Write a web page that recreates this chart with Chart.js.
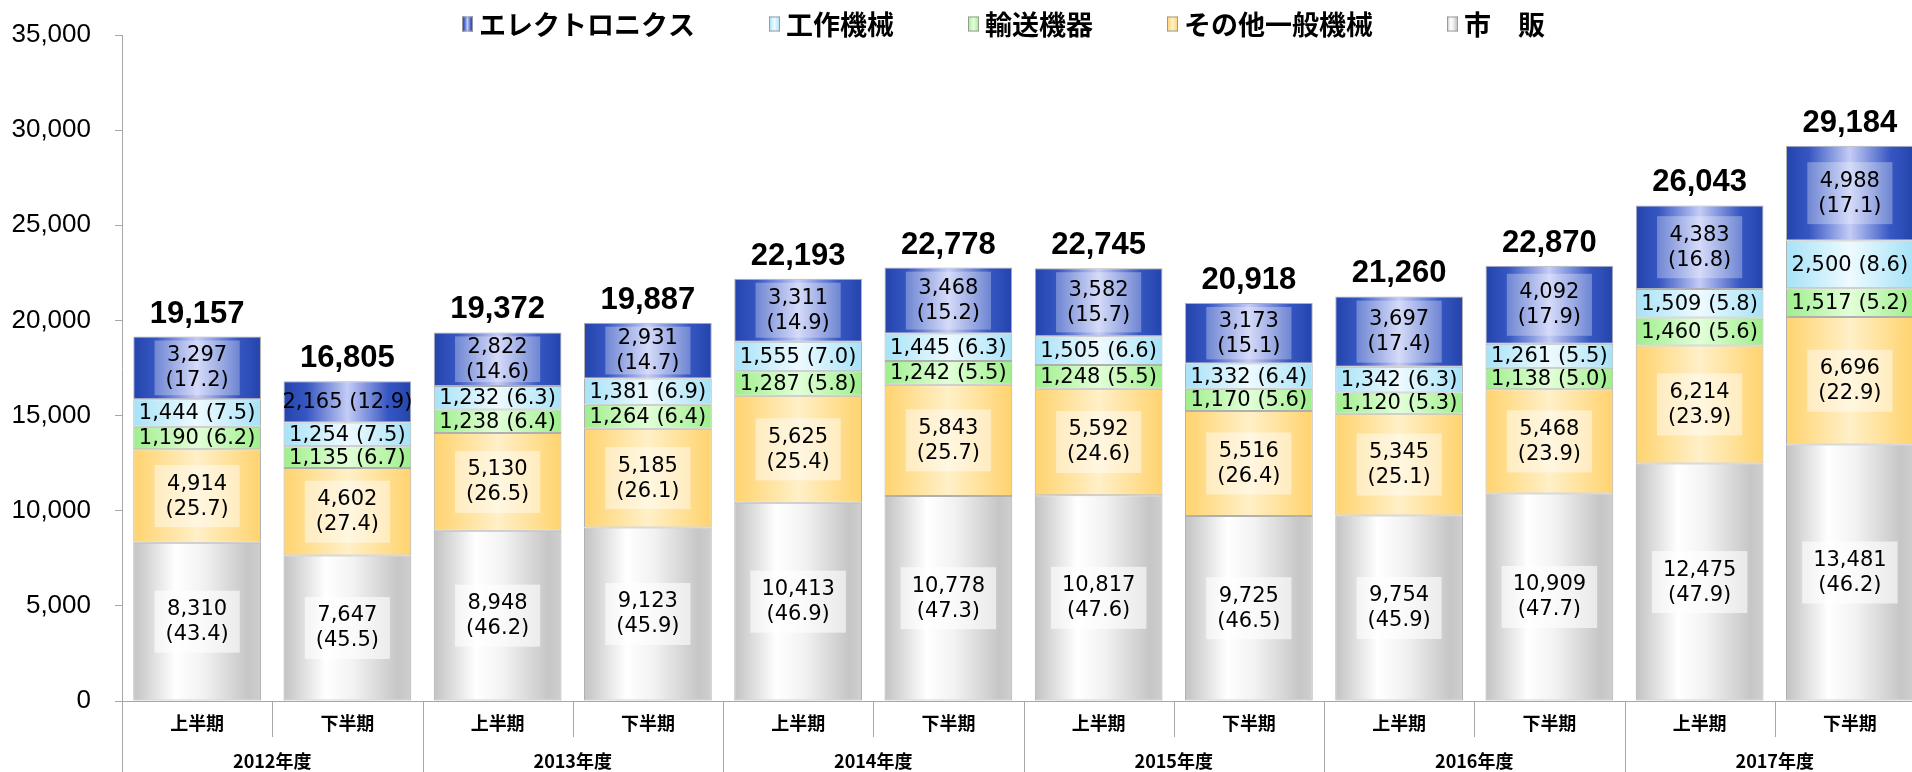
<!DOCTYPE html>
<html lang="ja">
<head>
  <meta charset="UTF-8">
  <title>分野別受注額の推移</title>
  <script src="https://cdn.jsdelivr.net/npm/chart.js"></script>
  <style>
    html, body { margin: 0; padding: 0; background: #fff; overflow: hidden; }
    #wrap { position: relative; width: 1926px; height: 772px; }
  </style>
</head>
<body>
  <div id="wrap"><canvas id="chart"></canvas></div>

  <script>
    // periods and fiscal years
    const halves = ['上半期', '下半期', '上半期', '下半期', '上半期', '下半期',
                    '上半期', '下半期', '上半期', '下半期', '上半期', '下半期'];
    const years = ['2012年度', '2013年度', '2014年度', '2015年度', '2016年度', '2017年度'];

    // values (and share in %) per segment, bottom to top
    const shihan = [8310, 7647, 8948, 9123, 10413, 10778, 10817, 9725, 9754, 10909, 12475, 13481];
    const shihanPct = [43.4, 45.5, 46.2, 45.9, 46.9, 47.3, 47.6, 46.5, 45.9, 47.7, 47.9, 46.2];
    const other = [4914, 4602, 5130, 5185, 5625, 5843, 5592, 5516, 5345, 5468, 6214, 6696];
    const otherPct = [25.7, 27.4, 26.5, 26.1, 25.4, 25.7, 24.6, 26.4, 25.1, 23.9, 23.9, 22.9];
    const transport = [1190, 1135, 1238, 1264, 1287, 1242, 1248, 1170, 1120, 1138, 1460, 1517];
    const transportPct = [6.2, 6.7, 6.4, 6.4, 5.8, 5.5, 5.5, 5.6, 5.3, 5.0, 5.6, 5.2];
    const machineTools = [1444, 1254, 1232, 1381, 1555, 1445, 1505, 1332, 1342, 1261, 1509, 2500];
    const machineToolsPct = [7.5, 7.5, 6.3, 6.9, 7.0, 6.3, 6.6, 6.4, 6.3, 5.5, 5.8, 8.6];
    const electronics = [3297, 2165, 2822, 2931, 3311, 3468, 3582, 3173, 3697, 4092, 4383, 4988];
    const electronicsPct = [17.2, 12.9, 14.6, 14.7, 14.9, 15.2, 15.7, 15.1, 17.4, 17.9, 16.8, 17.1];
    const totals = [19157, 16805, 19372, 19887, 22193, 22778, 22745, 20918, 21260, 22870, 26043, 29184];

    // horizontal gradients for each series
    const fills = {
      shihan: [[0, '#c2c2c2'], [0.33, '#ffffff'], [0.55, '#f2f2f2'], [0.9, '#c6c6c6'], [1, '#cfcfcf']],
      other: [[0, '#ffd36e'], [0.5, '#fff0c8'], [1, '#ffd36e']],
      transport: [[0, '#9eee8c'], [0.5, '#e2ffd8'], [1, '#9eee8c']],
      machineTools: [[0, '#a6e2f7'], [0.5, '#eefaff'], [1, '#a6e2f7']],
      electronics: [[0, '#2444ac'], [0.18, '#3656c2'], [0.5, '#c4ccf6'], [0.82, '#3656c2'], [1, '#2444ac']]
    };

    const fmt = v => v.toLocaleString('en-US');

    function barFill(stops) {
      return c => {
        const chart = c.chart;
        if (c.type !== 'data' || !chart.chartArea) return stops[0][1];
        const xs = chart.scales.x;
        const cx = xs.getPixelForValue(c.dataIndex);
        const w = xs.width / chart.data.labels.length * 0.85;
        const g = chart.ctx.createLinearGradient(cx - w / 2, 0, cx + w / 2, 0);
        stops.forEach(([o, col]) => g.addColorStop(o, col));
        return g;
      };
    }

    function series(label, data, pct, stops, box) {
      return {
        label, data, pct, stops, box,
        backgroundColor: barFill(stops),
        borderColor: 'rgba(150,150,150,0.75)',
        borderWidth: 1,
        borderSkipped: false
      };
    }

    // labels in segments + totals on top
    const valueLabels = {
      id: 'valueLabels',
      afterDatasetsDraw(chart) {
        const ctx = chart.ctx;
        ctx.save();
        ctx.textAlign = 'center';
        ctx.textBaseline = 'middle';
        chart.data.datasets.forEach((ds, di) => {
          chart.getDatasetMeta(di).data.forEach((bar, i) => {
            const h = bar.base - bar.y;
            const cy = (bar.y + bar.base) / 2;
            ctx.font = '21px "DejaVu Sans"';
            if (h >= 50) {
              const l1 = fmt(ds.data[i]);
              const l2 = '(' + ds.pct[i].toFixed(1) + ')';
              const tw = Math.max(ctx.measureText(l1).width, ctx.measureText(l2).width);
              const bh = Math.min(62, h - 8);
              if (ds.box) {
                ctx.fillStyle = ds.box;
                ctx.fillRect(bar.x - tw / 2 - 11, cy - bh / 2, tw + 22, bh);
              }
              ctx.fillStyle = '#000';
              ctx.fillText(l1, bar.x, cy - 12);
              ctx.fillText(l2, bar.x, cy + 13);
            } else {
              ctx.fillStyle = '#000';
              ctx.fillText(fmt(ds.data[i]) + ' (' + ds.pct[i].toFixed(1) + ')', bar.x, cy + 1);
            }
          });
        });
        const topMeta = chart.getDatasetMeta(chart.data.datasets.length - 1);
        ctx.font = 'bold 31px "Liberation Sans"';
        ctx.textBaseline = 'alphabetic';
        ctx.fillStyle = '#000';
        topMeta.data.forEach((bar, i) => {
          ctx.fillText(fmt(totals[i]), bar.x, bar.y - 14);
        });
        ctx.restore();
      }
    };

    // two-row category axis and legend
    const decorations = {
      id: 'decorations',
      afterDraw(chart) {
        const ctx = chart.ctx;
        const xs = chart.scales.x;
        const area = chart.chartArea;
        const step = xs.getPixelForValue(1) - xs.getPixelForValue(0);
        ctx.save();
        ctx.strokeStyle = '#a6a6a6';
        ctx.lineWidth = 1;
        for (let i = 0; i <= halves.length; i++) {
          const x = Math.round(xs.getPixelForValue(i) - step / 2) + 0.5;
          ctx.beginPath();
          ctx.moveTo(x, area.bottom);
          ctx.lineTo(x, i % 2 === 0 ? chart.height : area.bottom + 36);
          ctx.stroke();
        }
        ctx.fillStyle = '#000';
        ctx.textAlign = 'center';
        ctx.textBaseline = 'middle';
        ctx.font = 'bold 18px "Noto Sans CJK JP"';
        halves.forEach((t, i) => ctx.fillText(t, xs.getPixelForValue(i), area.bottom + 22));
        years.forEach((t, k) => {
          const x = (xs.getPixelForValue(2 * k) + xs.getPixelForValue(2 * k + 1)) / 2;
          ctx.fillText(t, x, area.bottom + 60);
        });

        // legend, top to bottom order of the stack
        const items = chart.data.datasets.slice().reverse();
        ctx.font = 'bold 27px "Noto Sans CJK JP"';
        ctx.textAlign = 'left';
        const gap = 74, bw = 11, bh = 15;
        const widths = items.map(d => bw + 6 + ctx.measureText(d.label).width);
        const total = widths.reduce((a, b) => a + b, 0) + gap * (items.length - 1);
        let x = (area.left + area.right) / 2 - 20 - total / 2;
        const y = 24;
        items.forEach((d, i) => {
          const g = ctx.createLinearGradient(x, 0, x + bw, 0);
          d.stops.forEach(([o, col]) => g.addColorStop(o, col));
          ctx.fillStyle = g;
          ctx.fillRect(x, y - bh / 2, bw, bh);
          ctx.strokeStyle = '#9a9a9a';
          ctx.strokeRect(x + 0.5, y - bh / 2 + 0.5, bw - 1, bh - 1);
          ctx.fillStyle = '#000';
          ctx.fillText(d.label, x + bw + 6, y + 1);
          x += widths[i] + gap;
        });
        ctx.restore();
      }
    };

    new Chart(document.getElementById('chart'), {
      type: 'bar',
      data: {
        labels: halves,
        datasets: [
          series('市　販', shihan, shihanPct, fills.shihan, 'rgba(255,255,255,0.6)'),
          series('その他一般機械', other, otherPct, fills.other, 'rgba(255,255,255,0.45)'),
          series('輸送機器', transport, transportPct, fills.transport, null),
          series('工作機械', machineTools, machineToolsPct, fills.machineTools, null),
          series('エレクトロニクス', electronics, electronicsPct, fills.electronics, 'rgba(255,255,255,0.3)')
        ]
      },
      options: {
        responsive: true,
        maintainAspectRatio: false,
        animation: false,
        categoryPercentage: 1,
        barPercentage: 0.85,
        layout: { padding: { top: 35, right: 1, left: 0, bottom: 0 } },
        plugins: {
          legend: { display: false },
          tooltip: { enabled: false }
        },
        scales: {
          x: {
            stacked: true,
            ticks: { display: false },
            grid: { display: false },
            border: { display: true, color: '#a6a6a6' },
            afterFit: s => { s.height = 71; }
          },
          y: {
            stacked: true,
            min: 0,
            max: 35000,
            ticks: {
              stepSize: 5000,
              padding: 24,
              color: '#000',
              font: { family: 'Liberation Sans', size: 26 },
              callback: v => fmt(v)
            },
            grid: { drawOnChartArea: false, drawTicks: true, tickLength: 7, color: '#a6a6a6' },
            border: { display: true, color: '#a6a6a6' },
            afterFit: s => { s.width = 122; s.paddingTop = 0; s.paddingBottom = 0; }
          }
        }
      },
      plugins: [valueLabels, decorations]
    });
  </script>
</body>
</html>
